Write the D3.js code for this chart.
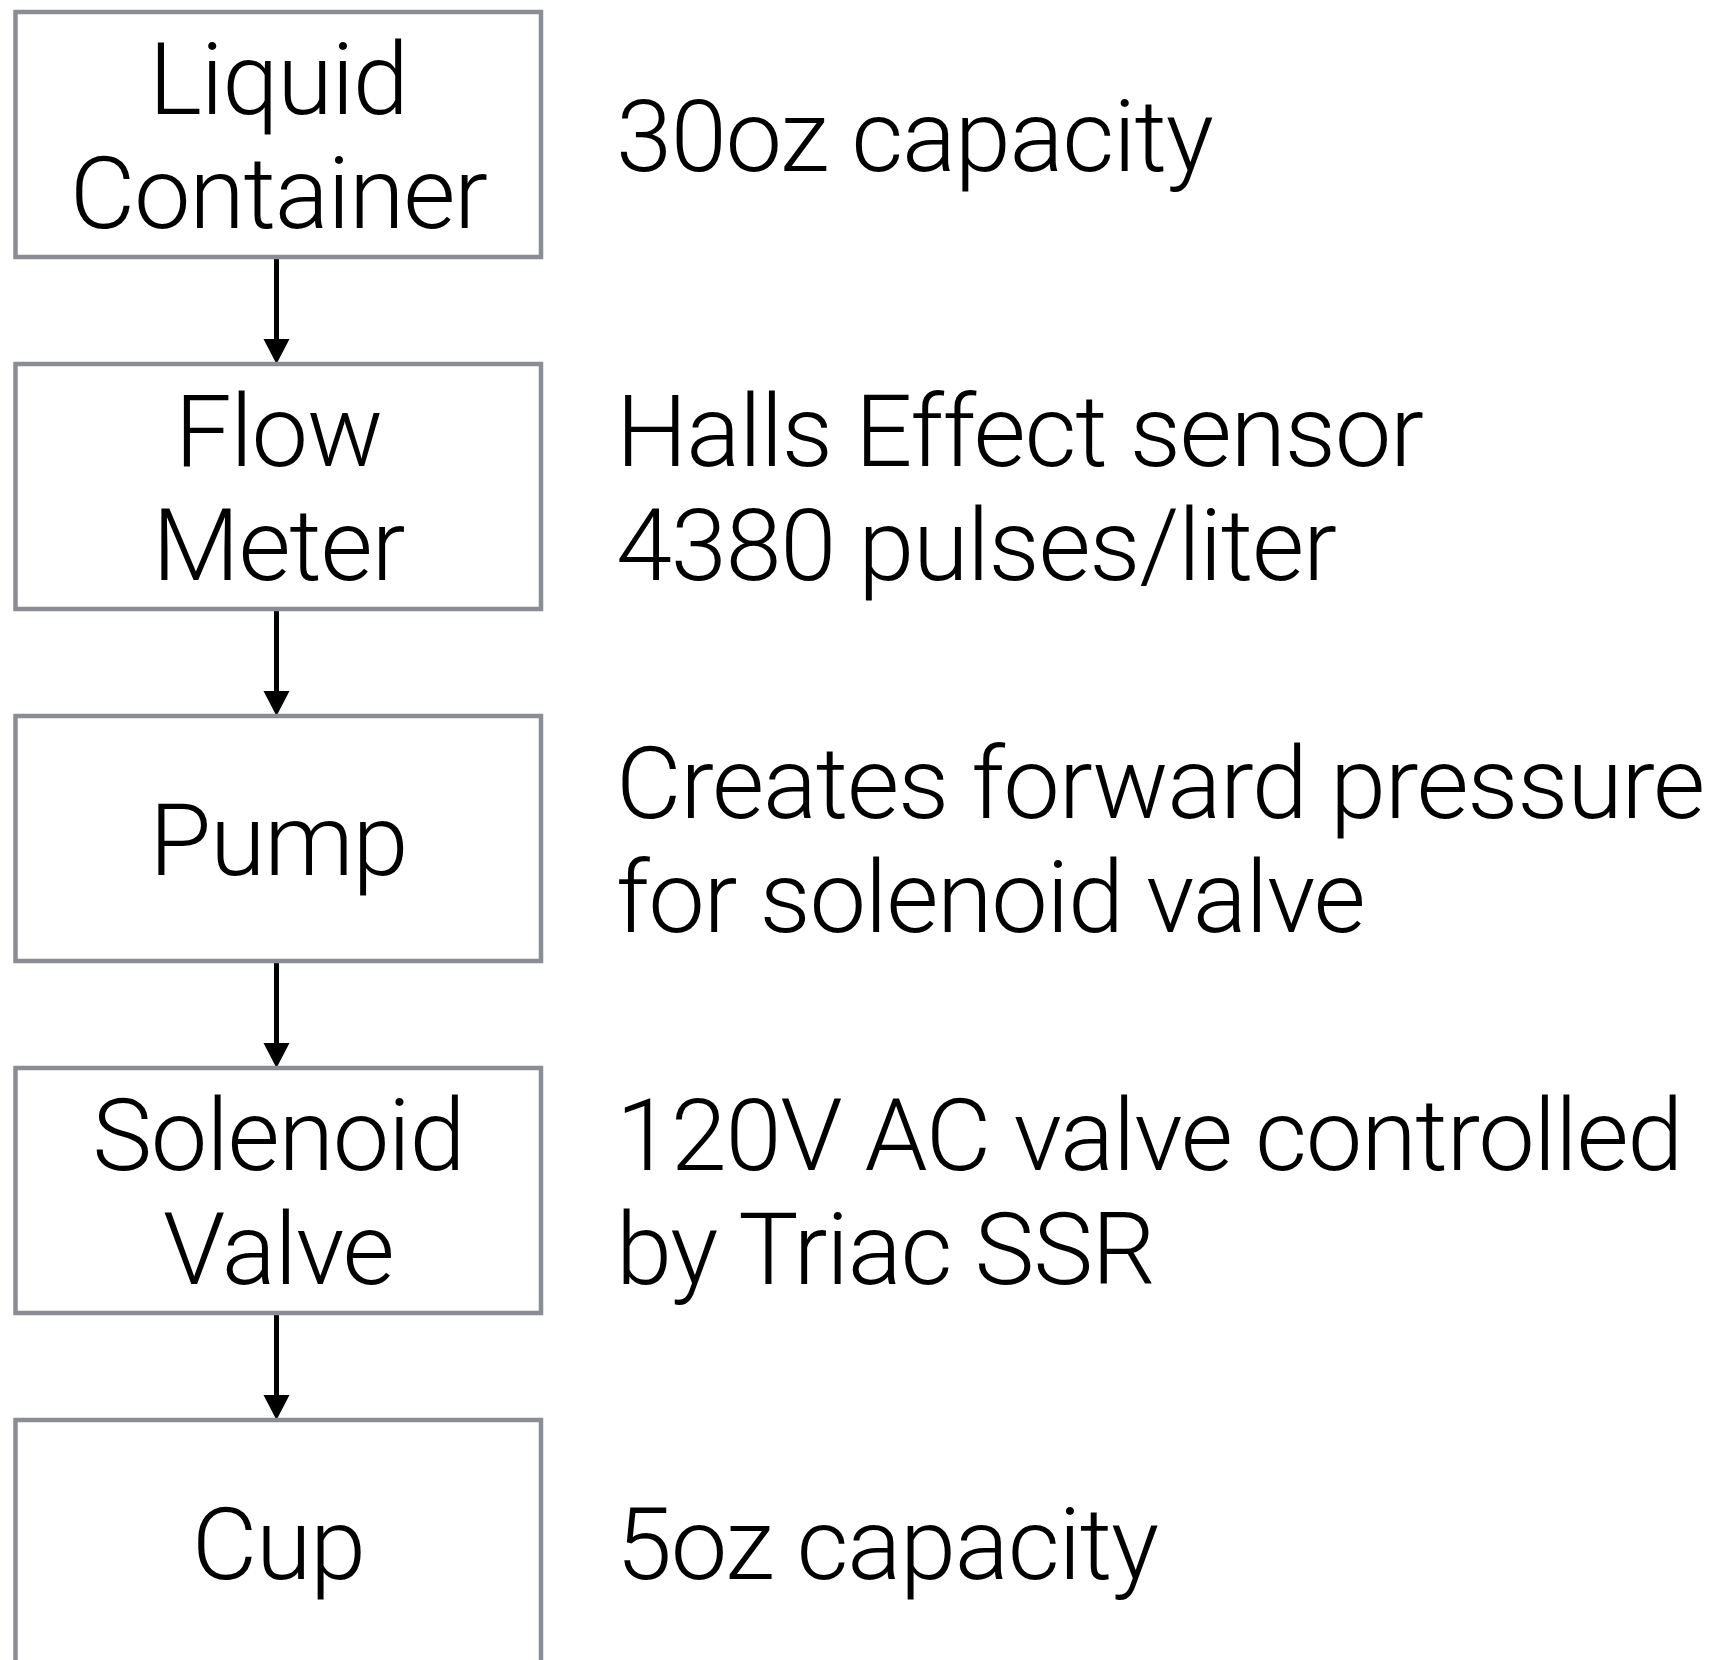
<!DOCTYPE html>
<html>
<head>
<meta charset="utf-8">
<script src="https://cdn.jsdelivr.net/npm/d3@7"></script>
<style>
  body { margin: 0; background: #fff; }
  svg { display: block; }
  text { font-family: Roboto, "Liberation Sans", Arial, sans-serif; font-weight: 300; fill: #000; }
</style>
</head>
<body>
<div id="chart"></div>
<script>
// stages of the flow, top to bottom
const stageLabels = [
    ["Liquid", "Container"],
    ["Flow", "Meter"],
    ["Pump"],
    ["Solenoid", "Valve"],
    ["Cup"]
];

// note shown to the right of each stage
const stageNotes = [
    ["30oz capacity"],
    ["Halls Effect sensor", "4380 pulses/liter"],
    ["Creates forward pressure", "for solenoid valve"],
    ["120V AC valve controlled", "by Triac SSR"],
    ["5oz capacity"]
];

const width = 1719;
const height = 1660;
const boxLeft = 15.5;
const boxWidth = 525.5;
const boxHeight = 245;
const lineStep = 114;
const capHalf = 36;
const fontSize = 101;
const tracking = '-1.3px';
const noteX = 616;
const arrowX = 276.5;

const svg = d3.select('#chart')
    .append('svg')
    .attr('width', width)
    .attr('height', height);

svg.append('rect')
    .attr('width', width)
    .attr('height', height)
    .attr('fill', '#fff');

// vertical position of each box top
const y = d3.scaleLinear()
    .domain([0, stageLabels.length - 1])
    .range([12, 12 + 352 * (stageLabels.length - 1)]);

const stages = stageLabels.map((lines, i) => ({
    lines,
    notes: stageNotes[i],
    top: y(i),
    mid: y(i) + boxHeight / 2
}));

// arrows between boxes
const arrows = d3.range(stages.length - 1).map(i => ({
    from: stages[i].top + boxHeight,
    to: stages[i + 1].top
}));

const arrowG = svg.selectAll('.arrow')
    .data(arrows)
    .enter().append('g')
    .attr('class', 'arrow');

arrowG.append('line')
    .attr('x1', arrowX)
    .attr('x2', arrowX)
    .attr('y1', d => d.from)
    .attr('y2', d => d.to - 22)
    .style('stroke', '#000')
    .style('stroke-width', 5);

arrowG.append('path')
    .attr('d', d => {
        const p = d3.path();
        p.moveTo(arrowX - 13, d.to - 25);
        p.lineTo(arrowX + 13, d.to - 25);
        p.lineTo(arrowX, d.to);
        p.closePath();
        return p.toString();
    })
    .style('fill', '#000');

// boxes
svg.selectAll('.box')
    .data(stages)
    .enter().append('rect')
    .attr('class', 'box')
    .attr('x', boxLeft)
    .attr('y', d => d.top)
    .attr('width', boxWidth)
    .attr('height', boxHeight)
    .style('fill', 'none')
    .style('stroke', '#8a8d91')
    .style('stroke-width', 4.5);

function lineY(d, j, count) {
    return d.mid + (j - (count - 1) / 2) * lineStep + capHalf;
}

// box labels
const labels = svg.selectAll('.label')
    .data(stages)
    .enter().append('text')
    .attr('class', 'label')
    .attr('text-anchor', 'middle')
    .style('font-size', fontSize + 'px')
    .style('letter-spacing', tracking);

labels.selectAll('tspan')
    .data(d => d.lines.map((t, j) => ({ t, y: lineY(d, j, d.lines.length) })))
    .enter().append('tspan')
    .attr('x', boxLeft + boxWidth / 2)
    .attr('y', d => d.y)
    .text(d => d.t);

// notes on the right
const notes = svg.selectAll('.note')
    .data(stages)
    .enter().append('text')
    .attr('class', 'note')
    .style('font-size', fontSize + 'px')
    .style('letter-spacing', tracking);

notes.selectAll('tspan')
    .data(d => d.notes.map((t, j) => ({ t, y: lineY(d, j, d.notes.length) })))
    .enter().append('tspan')
    .attr('x', noteX)
    .attr('y', d => d.y)
    .text(d => d.t);
</script>
</body>
</html>
